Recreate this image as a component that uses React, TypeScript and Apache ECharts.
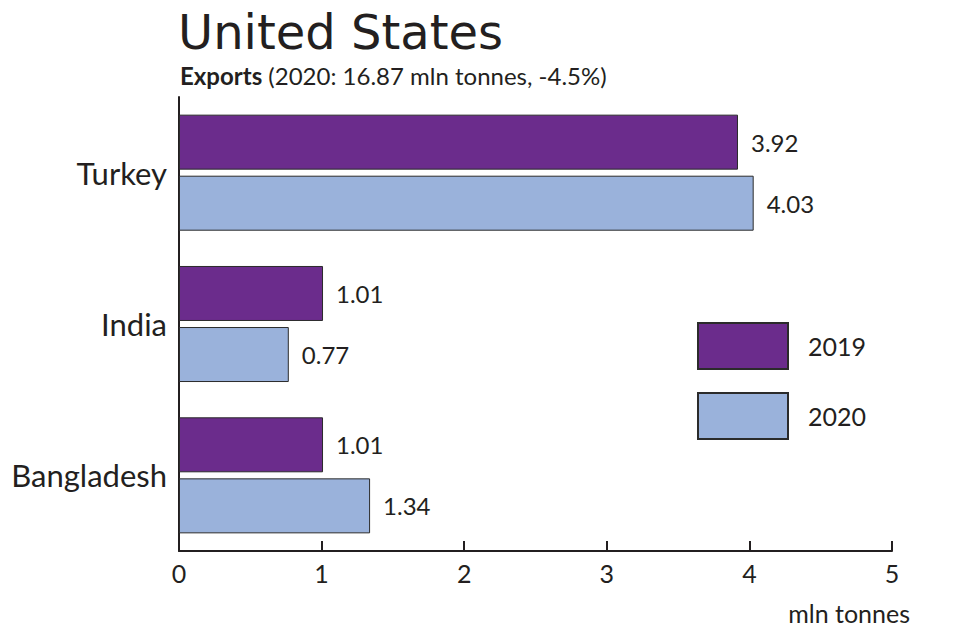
import React, { useEffect, useRef } from "react";
import * as echarts from "echarts";

const categories = ["Turkey", "India", "Bangladesh"];
const seriesNames = ["2019", "2020"];
const values2019 = [3.92, 1.01, 1.01];
const values2020 = [4.03, 0.77, 1.34];
const xTicks = { min: 0, max: 5, interval: 1 };
const titleText = "United States";
const subtitleBold = "Exports";
const subtitleRest = " (2020: 16.87 mln tonnes, -4.5%)";
const axisName = "mln tonnes";

const FONT = "Lato, 'Open Sans', sans-serif";
const TITLE_FONT = "'DejaVu Sans', 'Open Sans', sans-serif";
const INK = "#231f20";
const PURPLE = "#6b2c8c";
const BLUE = "#9ab2db";

export default function App() {
  const ref = useRef<HTMLDivElement>(null);
  useEffect(() => {
    if (!ref.current) return;
    const chart = echarts.init(ref.current, undefined, { renderer: "svg" });
    const label = {
      show: true,
      position: "right",
      distance: 13,
      fontSize: 24,
      fontFamily: FONT,
      color: INK,
      formatter: (p: any) => Number(p.value).toFixed(2),
    };
    chart.setOption({
      animation: false,
      backgroundColor: "#ffffff",
      textStyle: { fontFamily: FONT, color: INK },
      title: [
        {
          text: titleText,
          left: 178,
          top: 8,
          padding: 0,
          textStyle: {
            fontSize: 48,
            lineHeight: 48,
            fontWeight: "normal",
            color: INK,
            fontFamily: TITLE_FONT,
          },
        },
        {
          text: `{b|${subtitleBold}}{r|${subtitleRest}}`,
          left: 180,
          top: 63,
          padding: 0,
          textStyle: {
            rich: {
              b: { fontSize: 24, fontWeight: "bold", color: INK, fontFamily: FONT },
              r: { fontSize: 24, fontWeight: "normal", color: INK, fontFamily: FONT },
            },
          },
        },
      ],
      legend: {
        orient: "vertical",
        left: 697,
        top: 322,
        padding: 0,
        itemWidth: 90,
        itemHeight: 46,
        itemGap: 22,
        icon: "rect",
        data: seriesNames,
        textStyle: { fontSize: 25, color: INK, fontFamily: FONT, padding: [0, 0, 0, 15] },
      },
      grid: { left: 179, right: 61, top: 97, bottom: 90, containLabel: false },
      xAxis: {
        type: "value",
        min: xTicks.min,
        max: xTicks.max,
        interval: xTicks.interval,
        splitLine: { show: false },
        axisLine: { show: true, lineStyle: { color: INK, width: 2 } },
        axisTick: { show: true, inside: true, length: 10, lineStyle: { color: INK, width: 2 } },
        axisLabel: { fontSize: 25, color: INK, margin: 9, fontFamily: FONT },
        name: axisName,
        nameLocation: "end",
        nameGap: 18,
        nameTextStyle: {
          fontSize: 25,
          color: INK,
          fontFamily: FONT,
          align: "right",
          verticalAlign: "top",
          padding: [49, 0, 0, 0],
        },
      },
      yAxis: {
        type: "category",
        inverse: true,
        data: categories,
        axisLine: { show: true, lineStyle: { color: INK, width: 2 } },
        axisTick: { show: false },
        axisLabel: { fontSize: 31, color: INK, margin: 12, fontFamily: FONT },
      },
      series: [
        {
          name: seriesNames[0],
          type: "bar",
          data: values2019,
          barWidth: 55,
          barGap: "11%",
          itemStyle: { color: PURPLE, borderColor: "#2b2b2b", borderWidth: 1 },
          label,
        },
        {
          name: seriesNames[1],
          type: "bar",
          data: values2020,
          barWidth: 55,
          barGap: "11%",
          itemStyle: { color: BLUE, borderColor: "#2b2b2b", borderWidth: 1 },
          label,
        },
      ],
    });
    return () => chart.dispose();
  }, []);
  return (
    <div
      ref={ref}
      style={{ position: "fixed", left: 0, top: 0, width: 953, height: 641, background: "#fff" }}
    />
  );
}
